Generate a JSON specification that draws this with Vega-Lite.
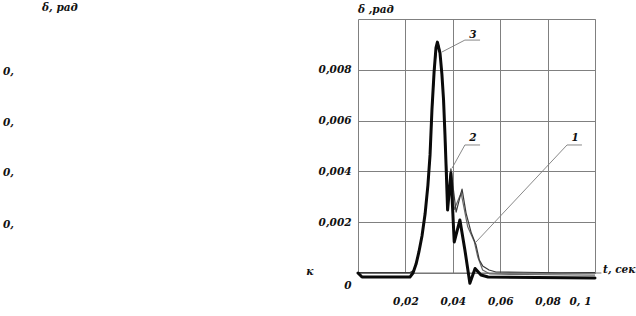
{
  "$schema": "https://vega.github.io/schema/vega-lite/v6.json",
  "width": 237,
  "height": 254,
  "autosize": {"type": "none"},
  "padding": {"left": 358, "top": 19, "right": 41, "bottom": 43},
  "background": "white",
  "config": {
    "view": {"stroke": "#808080", "strokeWidth": 1},
    "axis": {
      "labelFont": "DejaVu Serif",
      "labelFontStyle": "italic",
      "labelFontWeight": "bold",
      "labelFontSize": 10.5,
      "labelColor": "#111111",
      "ticks": false,
      "domain": false,
      "grid": true,
      "gridColor": "#808080",
      "gridWidth": 1,
      "gridOpacity": 1,
      "title": null
    }
  },
  "datasets": {
    "curves": [
      {"curve": "1", "t": 0, "v": 0},
      {"curve": "1", "t": 0.022, "v": 0},
      {"curve": "1", "t": 0.0233, "v": 0.00005},
      {"curve": "1", "t": 0.0245, "v": 0.00037},
      {"curve": "1", "t": 0.0257, "v": 0.00085},
      {"curve": "1", "t": 0.027, "v": 0.0015},
      {"curve": "1", "t": 0.0283, "v": 0.0023},
      {"curve": "1", "t": 0.0295, "v": 0.0035},
      {"curve": "1", "t": 0.0304, "v": 0.0046},
      {"curve": "1", "t": 0.0312, "v": 0.0063},
      {"curve": "1", "t": 0.0321, "v": 0.0078},
      {"curve": "1", "t": 0.033, "v": 0.0088},
      {"curve": "1", "t": 0.0336, "v": 0.0091},
      {"curve": "1", "t": 0.0343, "v": 0.0089},
      {"curve": "1", "t": 0.035, "v": 0.0083},
      {"curve": "1", "t": 0.0358, "v": 0.0072},
      {"curve": "1", "t": 0.0365, "v": 0.0058},
      {"curve": "1", "t": 0.0372, "v": 0.0043},
      {"curve": "1", "t": 0.0379, "v": 0.0027},
      {"curve": "1", "t": 0.0392, "v": 0.004},
      {"curve": "1", "t": 0.0406, "v": 0.0025},
      {"curve": "1", "t": 0.0435, "v": 0.00315},
      {"curve": "1", "t": 0.0463, "v": 0.00182},
      {"curve": "1", "t": 0.0491, "v": 0.00123},
      {"curve": "1", "t": 0.0505, "v": 0.00064},
      {"curve": "1", "t": 0.0526, "v": 0.00012},
      {"curve": "1", "t": 0.0557, "v": -0.00004},
      {"curve": "1", "t": 0.07, "v": -0.00006},
      {"curve": "1", "t": 0.1, "v": -0.00008},

      {"curve": "2", "t": 0, "v": 0.00002},
      {"curve": "2", "t": 0.022, "v": 0.00002},
      {"curve": "2", "t": 0.0234, "v": 0.0001},
      {"curve": "2", "t": 0.0246, "v": 0.0004},
      {"curve": "2", "t": 0.0258, "v": 0.0009},
      {"curve": "2", "t": 0.0271, "v": 0.0015},
      {"curve": "2", "t": 0.0284, "v": 0.0024},
      {"curve": "2", "t": 0.0296, "v": 0.0035},
      {"curve": "2", "t": 0.0305, "v": 0.0047},
      {"curve": "2", "t": 0.0313, "v": 0.0064},
      {"curve": "2", "t": 0.0322, "v": 0.0079},
      {"curve": "2", "t": 0.033, "v": 0.0088},
      {"curve": "2", "t": 0.0336, "v": 0.009},
      {"curve": "2", "t": 0.0344, "v": 0.0088},
      {"curve": "2", "t": 0.0352, "v": 0.0081},
      {"curve": "2", "t": 0.036, "v": 0.007},
      {"curve": "2", "t": 0.0367, "v": 0.0056},
      {"curve": "2", "t": 0.0374, "v": 0.0041},
      {"curve": "2", "t": 0.038, "v": 0.0028},
      {"curve": "2", "t": 0.0392, "v": 0.0041},
      {"curve": "2", "t": 0.0414, "v": 0.0024},
      {"curve": "2", "t": 0.0439, "v": 0.0033},
      {"curve": "2", "t": 0.0456, "v": 0.00236},
      {"curve": "2", "t": 0.0477, "v": 0.00161},
      {"curve": "2", "t": 0.0498, "v": 0.0011},
      {"curve": "2", "t": 0.0512, "v": 0.00051},
      {"curve": "2", "t": 0.0526, "v": 0.00028},
      {"curve": "2", "t": 0.0553, "v": 0.00012},
      {"curve": "2", "t": 0.0582, "v": 0.00004},
      {"curve": "2", "t": 0.07, "v": 0.00003},
      {"curve": "2", "t": 0.085, "v": 0.00001},
      {"curve": "2", "t": 0.1, "v": 0.00002},

      {"curve": "3", "t": 0, "v": 0},
      {"curve": "3", "t": 0.0017, "v": -0.00016},
      {"curve": "3", "t": 0.0219, "v": -0.00016},
      {"curve": "3", "t": 0.0232, "v": 0},
      {"curve": "3", "t": 0.0245, "v": 0.00035},
      {"curve": "3", "t": 0.0257, "v": 0.00083},
      {"curve": "3", "t": 0.027, "v": 0.00146},
      {"curve": "3", "t": 0.0283, "v": 0.00232},
      {"curve": "3", "t": 0.0295, "v": 0.00346},
      {"curve": "3", "t": 0.0304, "v": 0.00465},
      {"curve": "3", "t": 0.0312, "v": 0.00642},
      {"curve": "3", "t": 0.0321, "v": 0.00791},
      {"curve": "3", "t": 0.0329, "v": 0.00886},
      {"curve": "3", "t": 0.0335, "v": 0.00909},
      {"curve": "3", "t": 0.0346, "v": 0.00866},
      {"curve": "3", "t": 0.0354, "v": 0.00783},
      {"curve": "3", "t": 0.0361, "v": 0.00681},
      {"curve": "3", "t": 0.0367, "v": 0.00543},
      {"curve": "3", "t": 0.0373, "v": 0.00386},
      {"curve": "3", "t": 0.0378, "v": 0.00248},
      {"curve": "3", "t": 0.0392, "v": 0.00394},
      {"curve": "3", "t": 0.0406, "v": 0.00122},
      {"curve": "3", "t": 0.043, "v": 0.00209},
      {"curve": "3", "t": 0.0451, "v": 0.00091},
      {"curve": "3", "t": 0.0472, "v": -0.0004},
      {"curve": "3", "t": 0.0494, "v": 0.00018},
      {"curve": "3", "t": 0.0519, "v": -0.00008},
      {"curve": "3", "t": 0.0549, "v": -0.00016},
      {"curve": "3", "t": 0.1, "v": -0.0002}
    ],
    "leaders": [
      {"seg": "3", "ord": 1, "t": 0.0515, "v": 0.00917},
      {"seg": "3", "ord": 2, "t": 0.0451, "v": 0.00917},
      {"seg": "3", "ord": 3, "t": 0.0354, "v": 0.0087},
      {"seg": "2", "ord": 1, "t": 0.0515, "v": 0.00504},
      {"seg": "2", "ord": 2, "t": 0.0451, "v": 0.00504},
      {"seg": "2", "ord": 3, "t": 0.0397, "v": 0.00413},
      {"seg": "1", "ord": 1, "t": 0.0945, "v": 0.00504},
      {"seg": "1", "ord": 2, "t": 0.0882, "v": 0.00504},
      {"seg": "1", "ord": 3, "t": 0.0494, "v": 0.00118}
    ],
    "notes": [
      {"grp": "left", "txt": "δ ,рад", "t": 0, "v": 0.01035},
      {"grp": "left", "txt": "t, сек", "t": 0.1034, "v": 0.00012},
      {"grp": "left", "txt": "0,", "t": -0.1498, "v": 0.00791},
      {"grp": "left", "txt": "0,", "t": -0.1498, "v": 0.00591},
      {"grp": "left", "txt": "0,", "t": -0.1498, "v": 0.00394},
      {"grp": "left", "txt": "0,", "t": -0.1498, "v": 0.00189},
      {"grp": "left", "txt": "δ, рад", "t": -0.1333, "v": 0.01043},
      {"grp": "center", "txt": "к", "t": -0.0203, "v": 0.00004},
      {"grp": "center", "txt": "3", "t": 0.0485, "v": 0.00937},
      {"grp": "center", "txt": "2", "t": 0.0485, "v": 0.00531},
      {"grp": "center", "txt": "1", "t": 0.0916, "v": 0.00531}
    ],
    "baseline": [
      {"t": 0, "t2": 0.1027, "v": 0}
    ]
  },
  "layer": [
    {
      "data": {"name": "baseline"},
      "mark": {"type": "rule", "color": "#707070", "strokeWidth": 1},
      "encoding": {
        "x": {"field": "t", "type": "quantitative", "scale": {"domain": [0, 0.1], "nice": false, "zero": false},
          "axis": {
            "values": [0.02, 0.04, 0.06, 0.08, 0.1],
            "labelExpr": "datum.value > 0.099 ? '0, 1' : replace(format(datum.value, '.2f'), '.', ',')",
            "labelPadding": 23,
            "labelOffset": {"condition": {"test": "datum.value > 0.099", "value": -4}, "value": 0}
          }},
        "x2": {"field": "t2"},
        "y": {"field": "v", "type": "quantitative", "scale": {"domain": [0, 0.01], "nice": false, "zero": false},
          "axis": {
            "values": [0, 0.002, 0.004, 0.006, 0.008],
            "labelExpr": "datum.value == 0 ? '0' : replace(format(datum.value, '.3f'), '.', ',')",
            "labelPadding": 7,
            "labelOffset": {"condition": {"test": "datum.value == 0", "value": 12}, "value": 0}
          }}
      }
    },
    {
      "data": {"name": "curves"},
      "transform": [{"filter": "datum.curve != '3'"}],
      "mark": {"type": "line", "strokeJoin": "round", "strokeWidth": 1.2, "clip": false},
      "encoding": {
        "x": {"field": "t", "type": "quantitative"},
        "y": {"field": "v", "type": "quantitative"},
        "color": {"field": "curve", "type": "nominal", "legend": null,
          "scale": {"domain": ["1", "2"], "range": ["#6a6a6a", "#3a3a3a"]}},
        "order": {"field": "t", "type": "quantitative"}
      }
    },
    {
      "data": {"name": "curves"},
      "transform": [{"filter": "datum.curve == '3'"}],
      "mark": {"type": "line", "strokeJoin": "round", "strokeCap": "round", "strokeWidth": 3, "color": "#0a0a0a", "clip": false},
      "encoding": {
        "x": {"field": "t", "type": "quantitative"},
        "y": {"field": "v", "type": "quantitative"},
        "order": {"field": "t", "type": "quantitative"}
      }
    },
    {
      "data": {"name": "leaders"},
      "mark": {"type": "line", "color": "#7a7a7a", "strokeWidth": 0.9},
      "encoding": {
        "x": {"field": "t", "type": "quantitative"},
        "y": {"field": "v", "type": "quantitative"},
        "detail": {"field": "seg", "type": "nominal"},
        "order": {"field": "ord", "type": "quantitative"}
      }
    },
    {
      "data": {"name": "notes"},
      "transform": [{"filter": "datum.grp == 'left'"}],
      "mark": {"type": "text", "align": "left", "baseline": "middle", "font": "DejaVu Serif", "fontStyle": "italic", "fontWeight": "bold", "fontSize": 10.5, "color": "#111111"},
      "encoding": {
        "x": {"field": "t", "type": "quantitative"},
        "y": {"field": "v", "type": "quantitative"},
        "text": {"field": "txt", "type": "nominal"}
      }
    },
    {
      "data": {"name": "notes"},
      "transform": [{"filter": "datum.grp == 'center'"}],
      "mark": {"type": "text", "align": "center", "baseline": "middle", "font": "DejaVu Serif", "fontStyle": "italic", "fontWeight": "bold", "fontSize": 10.5, "color": "#111111"},
      "encoding": {
        "x": {"field": "t", "type": "quantitative"},
        "y": {"field": "v", "type": "quantitative"},
        "text": {"field": "txt", "type": "nominal"}
      }
    }
  ]
}
